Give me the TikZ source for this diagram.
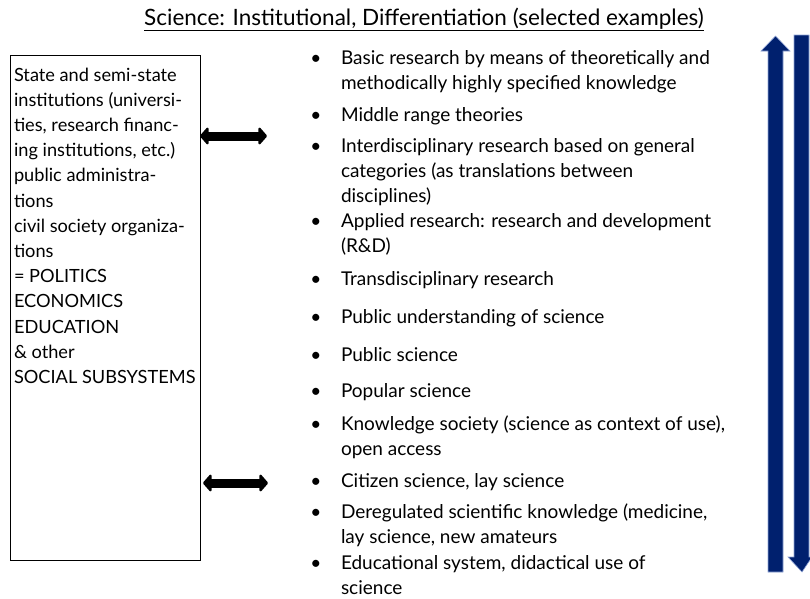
\documentclass[tikz,border=0pt]{standalone}
\usepackage{fontspec}
\setmainfont{Lato}
\usepackage{tikz}
\usetikzlibrary{arrows.meta}
\definecolor{navyarrow}{HTML}{00206E}
\definecolor{navyedge}{HTML}{8FA3D6}
% lines set flush left, hanging from the first baseline
\newcommand{\lines}[1]{\begin{tabular}[t]{@{}l@{}}#1\end{tabular}}
\tikzset{
	every node/.style = {
		inner sep=0pt,
		outer sep=0pt,
		font=\fontsize{19}{25}\selectfont
	},
	boxtext/.style = {
		anchor=base west,
		font=\fontsize{18.2}{25.2}\selectfont
	},
	item/.style = {
		anchor=base west
	},
	dot/.style = {
		anchor=base
	},
	linkarrow/.style = {
		line width=9pt,
		{Triangle[round,length=9pt,width=20pt]}-{Triangle[round,length=9pt,width=20pt]}
	},
	bluearrow/.style = {
		fill=navyarrow,
		draw=navyedge,
		line width=0.6pt
	}
}

\begin{document}
\begin{tikzpicture}[x=1pt,y=-1pt]
				\useasboundingbox (0,0) rectangle (810,598);
				% heading
				\node (title) [anchor=base,font=\fontsize{22.5}{27}\selectfont] at (424,25) {\underline{Science: Institutional, Differentiation (selected examples)}};
				% institutions on the left
				\draw [line width=0.8pt] (10,55) rectangle (200,560);
				\coordinate (box) at (200,300);
				\node (inst) [boxtext] at (14,81) {\lines{State and semi-state\\
					institutions (universi-\\
					ties, research financ-\\
					ing institutions, etc.)\\
					public administra-\\
					tions\\
					civil society organiza-\\
					tions\\
					= POLITICS\\
					ECONOMICS\\
					EDUCATION\\
					\& other\\
					SOCIAL SUBSYSTEMS}};
				% list of forms of science
				\foreach \y/\name/\txt in {
						64/i1/{Basic research by means of theoretically and\\methodically highly specified knowledge},
						121/i2/{Middle range theories},
						152/i3/{Interdisciplinary research based on general\\categories (as translations between\\disciplines)},
						227/i4/{Applied research: research and development\\(R\&D)},
						285/i5/{Transdisciplinary research},
						323/i6/{Public understanding of science},
						361/i7/{Public science},
						397/i8/{Popular science},
						430/i9/{Knowledge society (science as context of use),\\open access},
						487/i10/{Citizen science, lay science},
						518/i11/{Deregulated scientific knowledge (medicine,\\lay science, new amateurs},
						569/i12/{Educational system, didactical use of\\science}} {
					\node (d\name) [dot] at (316,\y) {\textbullet};
					\node (\name) [item] at (341,\y) {\lines{\txt}};
				}
				% exchange with the left box
				\coordinate (a1) at (267,136);
				\coordinate (a2) at (268,483);
				\draw [linkarrow] (box |- a1) -- (a1);
				\draw [linkarrow] (203,483) -- (a2);
				% up and down arrows along the list
				\draw [bluearrow] (768,572) -- (768,51) -- (761,51) -- (775.5,36) -- (790,51) -- (783,51) -- (783,572) -- cycle;
				\draw [bluearrow] (794,35) -- (809,35) -- (809,557) -- (812,557) -- (802,572) -- (788,557) -- (794,557) -- cycle;
\end{tikzpicture}
\end{document}
